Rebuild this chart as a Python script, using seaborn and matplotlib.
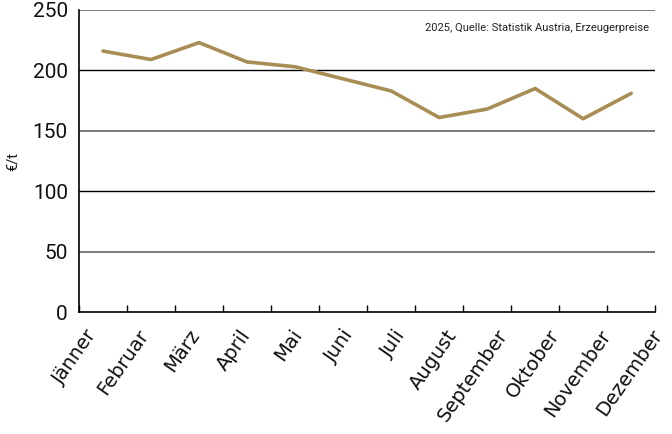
import matplotlib
matplotlib.use("Agg")
import matplotlib.pyplot as plt
import matplotlib.transforms as mtransforms
from matplotlib.ticker import FixedLocator
import seaborn as sns
import numpy as np
import pandas as pd

# --- Daten ---
months = ["Jänner", "Februar", "März", "April", "Mai", "Juni", "Juli",
          "August", "September", "Oktober", "November", "Dezember"]
prices = [216, 209, 223, 207, 203, 193, 183, 161, 168, 185, 160, 181]
y_ticks = [0, 50, 100, 150, 200, 250]
source_note = "2025, Quelle: Statistik Austria, Erzeugerpreise"
y_label = "€/t"

LINE_COLOR = "#A88D55"
NARROW = ["Liberation Sans Narrow", "Roboto", "DejaVu Sans"]

sns.set_theme(style="white")
plt.rcParams["font.family"] = NARROW

df = pd.DataFrame({"Monat": months, "Preis": prices})

fig = plt.figure(figsize=(6.72, 4.34), dpi=100)
ax = fig.add_axes([0.1176, 0.281, 0.8574, 0.696])

# Gitterlinien abwechselnd dunkel / grau
for v in y_ticks[1:]:
    dark = v in (100, 200)
    ax.axhline(v, color="#000000" if dark else "#7a7a7a",
               lw=1.0 if dark else 1.4, zorder=1)

sns.lineplot(data=df, x="Monat", y="Preis", color=LINE_COLOR, lw=2.6,
             sort=False, ax=ax, zorder=3)

ax.set_xlim(-0.5, len(months) - 0.5)
ax.set_ylim(0, 250)
ax.set_yticks(y_ticks)
ax.set_yticklabels([str(v) for v in y_ticks], fontsize=15, color="#111111")

# Monatsnamen schräg, Tickstriche an den Bandgrenzen
ax.set_xticks(range(len(months)))
ax.tick_params(axis="x", which="major", length=0, pad=10)
ax.xaxis.set_minor_locator(FixedLocator(np.arange(-0.5, len(months), 1.0)))
ax.tick_params(axis="x", which="minor", bottom=True, direction="in",
               length=5, width=1, color="black")
ax.tick_params(axis="y", length=0, pad=8)
ax.set_xticklabels(months, rotation=55, ha="right", rotation_mode="anchor",
                   fontsize=14, family=["DejaVu Sans"], color="#111111")
# Beschriftungen im Original etwas weiter gespreizt als die Bänder
for i, lbl in enumerate(ax.get_xticklabels()):
    dx = (-18 + 3.4 * i) / 100
    lbl.set_transform(lbl.get_transform()
                      + mtransforms.ScaledTranslation(dx, 0, fig.dpi_scale_trans))

for side in ["top", "right"]:
    ax.spines[side].set_visible(False)
for side in ["left", "bottom"]:
    ax.spines[side].set_color("black")
    ax.spines[side].set_linewidth(1.2)

ax.set_xlabel("")
ax.set_ylabel(y_label, fontsize=10.5, color="#111111")
ax.yaxis.set_label_coords(-0.102, 0.5)
ax.text(0.99, 0.94, source_note, transform=ax.transAxes, ha="right", va="center",
        fontsize=8, color="#222222")

fig.savefig("out.png", dpi=100)
